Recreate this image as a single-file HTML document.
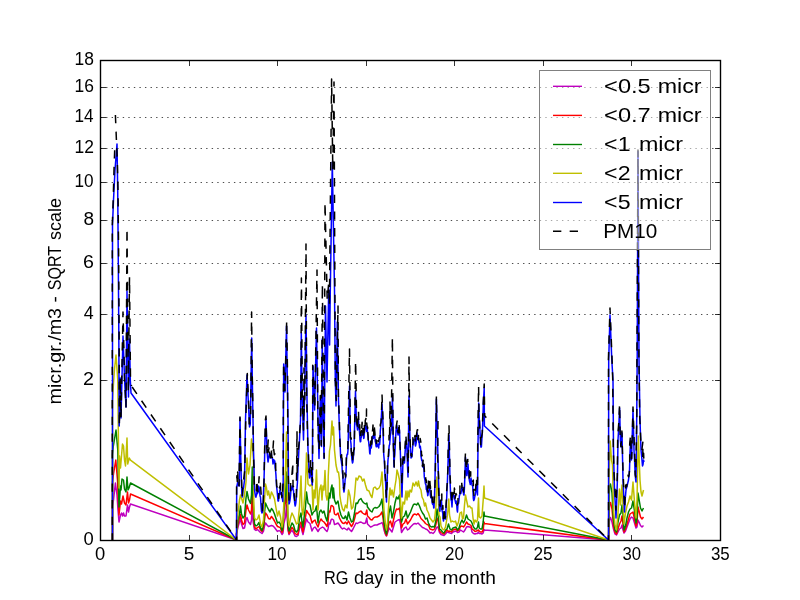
<!DOCTYPE html>
<html><head><meta charset="utf-8"><title>plot</title>
<style>html,body{margin:0;padding:0;background:#fff;}svg{display:block;will-change:transform;}text{font-family:"Liberation Sans",sans-serif;fill:#000;}</style></head><body>
<svg width="800" height="600" viewBox="0 0 800 600">
<rect width="800" height="600" fill="#fff"/>
<defs><clipPath id="c"><rect x="100" y="60" width="620" height="480"/></clipPath></defs>
<g stroke="#000" stroke-width="0.7" stroke-dasharray="1.39 4.17" fill="none">
<line x1="100.5" y1="380.5" x2="720.5" y2="380.5"/>
<line x1="100.5" y1="314.5" x2="720.5" y2="314.5"/>
<line x1="100.5" y1="263.5" x2="720.5" y2="263.5"/>
<line x1="100.5" y1="220.5" x2="720.5" y2="220.5"/>
<line x1="100.5" y1="182.5" x2="720.5" y2="182.5"/>
<line x1="100.5" y1="148.5" x2="720.5" y2="148.5"/>
<line x1="100.5" y1="117.5" x2="720.5" y2="117.5"/>
<line x1="100.5" y1="87.5" x2="720.5" y2="87.5"/>
</g>
<g clip-path="url(#c)" fill="none" stroke-linejoin="round">
<polyline stroke="#bf00bf" stroke-width="1.5" points="112.5,540.0 112.5,506.0 113.5,500.0 115.4,483.0 117.0,495.0 118.0,510.0 119.0,522.0 120.5,515.0 121.5,513.0 122.5,516.0 123.5,513.0 124.5,516.0 126.0,516.0 127.5,505.0 128.5,512.0 129.5,507.0 130.5,504.0 236.5,540.0 236.5,534.0 238.0,527.0 239.5,522.0 240.5,518.5 241.5,524.0 243.0,528.5 244.5,528.0 246.0,520.0 247.0,517.5 248.5,522.0 250.5,524.5 251.5,520.0 252.3,503.0 253.2,522.0 254.5,529.5 256.0,530.5 257.5,529.5 259.0,531.0 260.5,532.5 262.0,533.5 263.5,531.0 264.5,526.0 265.5,523.0 267.0,525.0 268.5,526.5 270.0,526.0 271.5,525.5 273.0,526.0 274.5,527.5 276.0,529.5 277.5,531.5 279.0,530.5 280.5,531.5 282.0,534.5 283.0,533.0 284.0,523.0 285.5,517.0 286.5,505.0 287.3,520.0 288.0,530.0 289.0,534.5 290.5,532.0 292.0,530.5 293.5,532.5 295.0,536.0 296.5,536.5 298.0,535.5 299.5,528.0 301.0,525.5 302.0,531.0 303.0,534.5 304.0,530.0 305.5,523.0 306.5,519.0 308.0,522.0 310.0,523.5 312.0,531.0 313.5,528.0 315.0,527.0 316.5,529.0 318.0,531.5 319.5,529.0 321.0,528.0 322.5,527.0 324.0,528.0 325.5,530.0 327.0,531.5 328.0,529.0 329.0,523.0 330.0,524.0 331.0,520.0 332.0,519.0 333.5,520.0 334.5,524.5 336.0,524.0 338.0,523.0 339.5,525.0 341.0,527.5 342.5,529.0 344.0,528.0 345.5,529.0 347.0,530.0 348.5,528.0 350.0,530.0 351.5,531.5 353.0,529.0 354.5,526.0 356.0,523.0 357.5,523.5 359.0,522.5 361.0,522.0 362.5,523.0 364.0,523.5 365.5,523.0 366.8,518.0 367.5,524.0 369.0,525.5 370.5,527.0 372.0,526.5 373.5,525.5 375.0,525.0 377.0,525.0 379.0,524.0 380.5,523.5 382.0,522.5 383.0,525.0 384.0,530.0 385.5,534.5 386.5,536.0 387.5,533.0 389.0,528.0 390.5,530.0 392.0,532.0 393.5,527.0 395.0,522.0 396.5,521.0 398.0,520.0 399.5,519.5 400.5,524.0 401.5,532.5 403.0,530.0 404.5,528.0 406.0,527.0 407.5,530.0 409.0,529.0 410.5,527.0 412.0,525.5 413.5,524.0 415.0,523.5 416.5,524.0 418.0,523.0 419.5,524.5 421.0,526.0 422.5,527.5 424.0,528.0 425.5,529.0 427.0,529.5 428.5,531.0 430.0,533.0 431.5,532.5 433.0,533.5 434.5,532.0 436.0,529.0 437.0,527.0 438.0,527.0 439.5,532.5 441.0,534.5 442.5,535.0 444.0,535.5 445.5,534.0 447.0,532.0 448.5,532.5 450.0,533.0 451.5,533.5 453.0,532.0 454.5,531.5 456.0,531.0 457.5,532.5 459.0,532.0 460.5,530.0 462.0,531.0 463.5,532.0 465.0,530.0 466.5,527.0 468.0,526.5 469.5,527.0 471.0,527.5 472.0,532.0 473.5,533.5 475.0,534.0 476.5,533.5 477.5,533.5 478.5,532.0 479.2,533.5 480.5,533.5 482.0,534.0 483.2,533.0 484.0,529.5 484.5,530.0 608.5,540.0 609.5,520.0 610.5,517.5 612.0,522.0 613.5,529.0 615.0,534.0 616.5,535.0 618.0,532.0 619.5,529.0 621.0,528.0 622.0,525.0 623.0,530.0 624.0,533.0 625.5,531.0 627.0,527.0 628.5,523.0 630.0,519.0 631.5,517.0 633.0,518.0 634.5,523.0 636.0,528.0 637.0,527.0 638.0,520.0 639.0,522.0 640.5,525.5 642.0,527.0 643.5,525.5"/>
<polyline stroke="#ff0000" stroke-width="1.5" points="112.5,540.0 112.5,482.0 113.5,474.0 115.8,460.0 117.5,480.0 118.3,500.0 119.0,515.0 120.5,501.0 121.5,504.0 123.0,496.0 124.5,503.0 126.0,505.0 127.5,492.0 128.5,503.0 129.5,500.0 130.5,494.0 236.5,540.0 236.5,534.0 238.0,524.0 239.5,518.0 240.5,514.5 241.5,520.0 243.0,524.5 244.5,523.0 246.0,510.0 247.0,505.0 248.5,510.0 250.5,514.0 251.5,510.0 252.3,487.0 253.2,510.0 254.5,527.0 256.0,529.0 257.5,527.5 259.0,526.5 260.5,530.0 262.0,531.5 263.5,528.0 264.5,520.0 265.5,513.0 267.0,515.0 268.5,518.5 270.0,519.0 271.5,516.5 273.0,518.5 274.5,521.0 276.0,524.0 277.5,526.5 279.0,527.0 280.5,528.0 282.0,532.5 283.0,530.0 284.0,510.0 285.5,502.0 286.5,490.0 287.3,510.0 288.0,528.0 289.0,533.5 290.5,530.0 292.0,527.5 293.5,529.5 295.0,533.5 296.5,534.5 298.0,534.0 299.5,525.0 301.0,522.0 302.0,528.0 303.0,532.0 304.0,525.0 305.5,517.0 306.5,510.5 308.0,513.0 310.0,515.5 312.0,523.0 313.5,521.0 315.0,520.0 316.5,524.0 318.0,527.0 319.5,522.0 321.0,519.0 322.5,521.0 324.0,522.0 325.5,524.0 327.0,526.5 328.0,522.0 329.0,511.0 330.0,512.0 331.0,506.0 332.0,505.5 333.5,507.0 334.5,514.0 336.0,515.0 338.0,513.0 339.5,518.0 341.0,521.0 342.5,523.0 344.0,523.5 345.5,522.0 347.0,524.0 348.5,521.0 350.0,524.0 351.5,526.5 353.0,524.0 354.5,519.0 356.0,513.0 357.5,513.5 359.0,512.0 361.0,511.0 362.5,513.0 364.0,514.0 365.5,514.5 366.8,510.0 367.5,516.0 369.0,517.5 370.5,519.5 372.0,520.0 373.5,518.0 375.0,517.0 377.0,517.0 379.0,516.0 380.5,514.5 382.0,512.0 383.0,518.0 384.0,526.0 385.5,533.5 386.5,535.5 387.5,531.0 389.0,523.0 390.5,521.0 392.0,527.0 393.5,520.0 395.0,513.0 396.5,509.0 398.0,509.5 399.5,508.0 400.5,517.0 401.5,528.0 403.0,524.0 404.5,523.0 406.0,519.0 407.5,524.0 409.0,522.0 410.5,520.0 412.0,517.0 413.5,514.5 415.0,514.0 416.5,515.0 418.0,513.5 419.5,515.5 421.0,518.5 422.5,520.0 424.0,521.5 425.5,523.5 427.0,524.5 428.5,525.0 430.0,529.0 431.5,529.5 433.0,530.0 434.5,529.0 436.0,524.0 437.0,518.0 438.0,520.0 439.5,531.0 441.0,532.5 442.5,533.5 444.0,534.0 445.5,532.0 447.0,530.0 448.5,531.5 450.0,531.0 451.5,532.0 453.0,530.0 454.5,529.5 456.0,529.0 457.5,531.0 459.0,530.0 460.5,526.5 462.0,526.0 463.5,527.0 465.0,525.0 466.5,522.0 468.0,524.0 469.5,524.5 471.0,525.5 472.0,529.0 473.5,530.0 475.0,531.5 476.5,531.0 477.5,530.5 478.5,530.0 479.2,531.0 480.5,532.0 482.0,532.0 483.2,530.0 484.0,522.0 484.5,523.5 608.5,540.0 609.5,505.0 610.5,502.5 612.0,509.0 613.5,526.0 615.0,532.0 616.5,534.0 618.0,529.0 619.5,524.0 621.0,521.0 622.0,516.0 623.0,524.0 624.0,532.0 625.5,529.0 627.0,524.0 628.5,519.0 630.0,514.0 631.5,513.0 633.0,512.0 634.5,519.0 636.0,526.0 637.0,523.0 638.0,507.0 639.0,511.0 640.5,517.0 642.0,519.0 643.5,517.0"/>
<polyline stroke="#008000" stroke-width="1.5" points="112.5,540.0 112.5,455.0 113.2,447.0 116.0,430.0 117.8,450.0 118.4,480.0 119.0,507.0 120.5,486.0 121.0,490.0 122.0,479.0 123.5,480.0 124.5,489.0 126.0,492.0 127.0,477.0 128.0,490.0 129.0,488.0 130.5,483.0 236.5,540.0 236.5,534.0 238.0,520.0 239.5,514.0 240.5,506.0 241.5,514.0 243.0,518.0 244.5,516.0 246.0,498.0 247.0,491.5 248.5,499.0 250.5,503.5 251.5,495.0 252.3,467.0 253.2,500.0 254.5,524.0 256.0,526.0 257.5,525.0 259.0,522.5 260.5,528.0 262.0,530.5 263.5,525.0 264.5,513.0 265.5,503.0 267.0,506.5 268.5,509.5 270.0,512.0 271.5,508.5 273.0,510.5 274.5,514.0 276.0,518.5 277.5,523.0 279.0,522.0 280.5,524.0 282.0,530.5 283.0,527.0 284.0,505.0 285.5,495.0 286.5,472.0 287.3,500.0 288.0,525.0 289.0,531.0 290.5,527.0 292.0,523.0 293.5,525.0 295.0,530.5 296.5,532.0 298.0,530.0 299.5,518.0 301.0,513.0 302.0,522.0 303.0,527.0 304.0,518.0 305.5,507.0 306.5,492.0 308.0,503.0 310.0,505.0 312.0,515.0 313.5,512.0 315.0,511.0 316.5,506.0 318.0,523.0 319.5,512.0 321.0,510.0 322.5,513.0 324.0,511.0 325.5,517.0 327.0,521.0 328.0,513.0 329.0,493.0 330.0,498.0 331.0,489.0 332.0,485.0 333.0,498.0 333.5,488.0 334.5,500.0 336.0,504.0 338.0,501.0 339.5,510.0 341.0,515.0 342.5,518.0 344.0,518.5 345.5,516.0 347.0,520.0 348.5,512.0 350.0,518.0 351.5,522.0 353.0,521.0 354.5,513.0 356.0,503.0 357.5,503.5 359.0,500.0 361.0,498.5 362.5,501.5 364.0,503.0 365.5,504.0 366.8,503.0 367.5,507.0 369.0,509.0 370.5,511.0 372.0,512.0 373.5,508.5 375.0,507.5 377.0,508.0 379.0,506.5 380.5,504.0 382.0,499.0 383.0,510.0 384.0,522.0 385.5,531.0 386.5,534.0 387.5,528.0 389.0,513.0 390.5,506.0 392.0,518.0 393.5,512.0 395.0,503.0 396.5,497.0 398.0,499.0 399.5,495.0 400.5,510.0 401.5,522.0 403.0,517.0 404.5,516.0 406.0,511.0 407.5,518.0 409.0,515.0 410.5,512.0 412.0,508.0 413.5,504.5 415.0,504.0 416.5,505.0 418.0,503.0 419.5,506.0 421.0,510.0 422.5,513.0 424.0,515.0 425.5,519.0 427.0,518.0 428.5,523.0 430.0,526.0 431.5,527.0 433.0,526.5 434.5,527.0 436.0,520.0 437.0,509.0 438.0,515.0 439.5,529.0 441.0,530.0 442.5,532.0 444.0,533.0 445.5,530.0 447.0,529.0 448.5,524.0 450.0,529.0 451.5,530.0 453.0,528.0 454.5,527.5 456.0,527.0 457.5,530.0 459.0,528.0 460.5,523.0 462.0,520.0 463.5,523.0 465.0,520.0 466.5,515.0 468.0,519.0 469.5,520.0 471.0,521.0 472.0,523.0 473.5,527.0 475.0,529.0 476.5,529.0 477.5,527.0 478.5,522.0 479.2,528.0 480.5,529.0 482.0,529.0 483.2,522.0 484.0,512.0 484.5,516.0 608.5,540.0 609.5,486.0 610.5,484.0 612.0,493.0 613.5,520.0 615.0,530.0 616.5,532.0 618.0,522.0 619.5,515.0 621.0,513.0 622.0,505.0 623.0,515.0 624.0,530.0 625.5,526.0 627.0,518.0 628.5,512.0 630.0,509.0 631.5,508.0 633.0,501.0 634.5,511.0 636.0,523.0 637.0,518.0 638.0,493.0 639.0,499.0 640.5,508.0 642.0,511.0 643.5,508.0"/>
<polyline stroke="#bfbf00" stroke-width="1.5" points="112.5,540.0 112.5,400.0 113.5,383.0 114.5,369.0 116.0,355.0 117.8,380.0 118.3,430.0 119.0,488.0 119.5,456.0 120.5,468.0 122.5,444.0 123.5,446.0 124.5,460.0 125.5,466.0 127.0,438.0 127.7,464.0 129.3,458.0 130.5,460.2 236.5,540.0 236.5,534.0 238.0,513.0 239.5,500.0 240.5,495.0 241.5,498.0 243.0,503.0 244.5,495.0 246.0,482.0 247.0,458.0 248.5,474.0 250.0,465.0 251.5,439.0 252.5,447.0 253.5,460.0 253.8,505.0 254.5,518.0 256.0,520.0 257.5,519.0 259.0,515.0 260.5,524.0 262.0,527.0 263.5,520.0 264.5,500.0 265.5,484.0 266.5,488.0 267.5,495.0 268.5,491.0 270.0,498.5 271.5,492.0 273.0,495.0 274.5,499.0 276.0,508.0 277.5,516.0 279.0,511.0 280.5,517.0 282.0,527.0 283.0,522.0 284.0,500.0 285.5,470.0 286.5,432.0 287.3,470.0 288.0,520.0 289.0,526.0 290.5,518.0 292.0,513.0 293.5,516.0 295.0,520.0 296.5,524.0 298.0,523.0 299.5,506.0 301.0,476.0 302.0,510.0 303.0,515.0 304.0,505.0 305.5,486.0 306.5,453.0 308.0,484.0 310.0,486.0 312.0,484.0 313.0,510.0 314.0,490.0 315.0,498.0 316.5,470.0 317.5,500.0 318.0,510.0 319.5,490.0 321.0,485.0 322.0,500.0 323.0,486.0 324.0,490.0 325.0,470.5 326.0,495.0 327.0,500.0 328.0,495.0 328.2,477.0 329.5,451.0 330.5,445.0 332.0,421.0 332.8,435.0 333.5,427.0 334.5,450.0 336.0,465.0 337.5,472.0 338.5,472.0 339.5,480.0 339.8,495.0 341.0,503.0 342.5,509.0 344.0,511.0 345.5,505.0 347.0,508.0 348.5,490.0 350.0,496.0 351.5,509.0 353.0,507.0 354.5,496.0 356.0,478.0 357.5,480.0 359.0,476.0 361.0,477.0 362.5,481.0 364.0,479.0 365.5,485.0 367.0,490.0 369.0,491.0 370.5,495.0 372.0,497.5 373.5,488.0 375.0,487.0 377.0,489.5 379.0,488.0 380.5,485.0 382.0,472.0 383.0,490.0 384.0,510.0 385.5,524.0 386.5,530.0 387.5,523.0 389.0,500.0 390.0,488.0 391.0,495.0 392.0,490.0 393.5,497.0 395.0,486.0 396.0,480.0 397.0,470.0 398.2,474.0 399.5,480.0 400.5,500.0 401.5,518.0 403.0,502.0 404.5,504.0 406.0,491.0 407.0,500.0 408.0,491.0 409.0,497.0 410.0,490.0 411.5,492.0 413.0,483.0 414.5,486.0 416.0,482.0 417.5,486.0 418.5,481.0 419.5,487.0 421.0,490.0 422.0,497.0 423.5,500.0 424.5,506.0 425.5,503.0 427.0,510.0 428.5,513.0 430.0,518.0 431.5,520.0 433.0,522.0 434.5,520.0 436.0,506.0 436.8,477.0 438.0,490.0 439.0,515.0 440.0,517.0 441.0,526.0 442.5,529.0 444.0,530.0 445.5,527.0 447.0,518.0 448.0,510.0 448.8,499.0 449.5,515.0 451.0,522.0 452.5,521.0 454.0,522.0 455.5,521.0 457.0,526.0 458.5,522.0 460.0,513.0 461.5,512.0 462.5,519.0 463.5,518.0 464.5,505.0 465.5,495.0 466.5,500.0 468.0,507.0 469.5,506.0 471.0,508.0 472.0,508.0 473.0,518.0 474.0,524.0 475.0,520.0 476.5,522.0 477.5,520.0 478.5,498.0 479.2,517.0 480.5,518.0 482.0,516.0 483.2,500.0 484.0,486.0 484.5,498.0 608.5,540.0 609.0,480.0 610.2,441.0 611.5,460.0 612.5,465.0 613.5,510.0 615.0,525.0 616.5,530.0 618.0,513.0 619.5,489.0 620.5,505.0 622.0,485.0 623.0,505.0 624.0,524.0 625.5,513.0 627.0,506.0 628.5,502.0 630.0,496.0 631.5,500.0 633.0,482.0 634.5,502.0 636.0,518.0 637.0,500.0 638.3,436.0 639.2,460.0 640.0,480.0 641.0,492.0 642.0,496.0 643.5,490.0"/>
<polyline stroke="#0000ff" stroke-width="1.5" points="112.5,540.0 112.5,225.0 113.5,200.0 115.0,170.0 117.0,144.0 117.7,190.0 118.2,250.0 118.8,330.0 119.2,426.0 120.2,378.0 121.0,418.0 123.0,336.0 124.6,380.0 126.0,407.0 127.0,291.0 128.5,397.0 129.5,339.0 130.3,380.0 131.0,393.0 236.5,540.0 236.5,540.0 236.7,486.0 237.0,486.4 237.3,484.1 237.7,482.5 238.0,483.0 238.6,485.0 239.2,486.0 240.0,418.0 241.0,470.0 241.5,485.1 242.0,496.0 242.4,496.9 242.8,491.7 243.1,487.3 243.5,488.0 244.0,484.1 244.5,480.0 245.5,420.0 247.0,375.0 248.5,405.0 249.0,416.4 249.5,427.0 249.9,425.8 250.3,424.0 251.7,338.0 252.3,380.0 253.0,420.0 253.5,450.0 254.0,468.4 254.5,490.0 255.1,493.6 255.7,497.0 256.0,497.2 256.4,494.6 256.7,494.7 257.0,490.0 257.5,493.5 258.0,492.0 258.5,486.1 259.0,487.0 259.5,489.8 260.0,496.0 260.5,497.1 261.0,505.0 261.5,511.6 262.0,513.0 262.5,512.1 263.0,508.0 263.5,491.7 264.0,480.0 264.5,462.4 265.0,440.0 265.5,431.8 266.0,419.0 266.5,435.3 267.0,450.0 267.5,457.0 268.0,462.0 268.3,460.8 268.7,456.8 269.0,456.2 269.3,453.3 269.7,455.9 270.0,455.0 270.3,458.1 270.7,456.2 271.0,453.9 271.3,453.3 271.7,456.8 272.0,458.0 272.5,458.4 273.0,464.0 273.5,459.8 274.0,460.0 274.4,462.9 274.8,461.1 275.1,467.8 275.5,470.0 275.9,474.4 276.2,479.8 276.6,486.7 277.0,490.0 277.5,495.0 278.0,501.0 278.5,500.9 279.0,495.0 279.5,492.7 280.0,490.0 280.4,494.0 280.8,493.7 281.1,494.8 281.5,495.0 281.8,497.4 282.1,498.2 282.5,499.2 282.8,501.5 283.2,480.0 283.4,420.0 283.7,364.0 285.0,392.0 286.5,326.0 287.3,380.0 288.0,420.0 288.5,480.0 289.0,504.0 289.4,503.2 289.8,501.4 290.1,499.3 290.5,496.0 290.9,490.8 291.2,490.6 291.6,489.2 292.0,486.0 292.4,489.0 292.8,486.1 293.1,490.3 293.5,490.0 293.8,496.0 294.2,499.2 294.5,501.0 294.8,504.2 295.2,506.0 295.5,505.0 295.9,502.7 296.2,499.4 296.6,493.3 297.0,488.0 297.4,483.0 297.8,474.0 298.1,463.5 298.5,458.0 299.0,447.4 299.5,440.0 300.0,428.6 300.5,420.0 301.3,333.0 302.2,400.0 302.9,418.9 303.2,431.0 303.5,440.0 304.0,417.9 304.5,400.0 306.0,315.0 307.0,400.0 308.0,450.0 308.4,454.8 308.8,465.3 309.1,472.3 309.5,478.0 309.9,475.5 310.2,473.2 310.6,470.0 311.0,470.0 311.3,476.4 311.6,480.4 312.0,482.7 312.3,485.0 313.0,366.0 314.6,410.0 316.5,328.0 318.0,420.0 318.5,438.7 319.0,458.5 320.3,400.0 321.5,446.5 322.2,339.0 323.2,420.0 324.0,458.5 325.5,306.0 327.0,382.0 328.7,290.0 329.6,345.0 330.3,290.0 332.3,162.0 334.5,290.0 335.3,380.0 336.0,406.0 337.3,322.0 338.5,400.0 339.0,417.3 339.5,430.0 339.9,439.1 340.2,446.7 340.6,455.9 341.0,460.0 341.3,460.6 341.7,464.2 342.0,465.1 342.3,471.9 342.7,474.7 343.0,480.0 343.5,489.4 344.0,492.0 344.4,489.4 344.8,484.7 345.1,479.6 345.5,478.0 346.0,473.0 346.5,460.0 346.9,455.1 347.2,454.1 347.6,454.5 348.0,450.0 349.5,386.0 350.5,440.0 351.0,443.9 351.5,455.0 352.0,460.1 352.5,463.0 352.9,461.9 353.2,458.8 353.6,454.1 354.0,450.0 355.5,391.0 356.5,425.0 357.0,425.6 357.5,430.0 358.0,421.5 358.5,420.0 358.9,426.9 359.2,429.2 359.6,433.5 360.0,440.0 360.3,441.8 360.7,441.6 361.0,437.7 361.3,437.5 361.7,434.8 362.0,433.0 362.3,434.1 362.7,431.5 363.0,435.3 363.3,434.2 363.7,438.4 364.0,438.0 364.3,433.6 364.7,430.6 365.0,429.0 365.3,426.3 365.7,425.1 366.0,426.0 366.3,426.6 366.7,431.5 367.0,430.4 367.3,429.3 367.7,434.2 368.0,435.0 368.3,440.5 368.7,441.8 369.0,445.8 369.3,447.2 369.7,453.3 370.0,454.0 370.3,449.4 370.7,447.4 371.0,445.7 371.3,447.9 371.7,444.7 372.0,442.0 372.3,437.9 372.7,436.6 373.0,435.8 373.3,438.5 373.7,436.3 374.0,435.0 374.3,436.0 374.7,435.4 375.0,438.5 375.3,441.7 375.7,442.7 376.0,446.0 376.3,446.8 376.7,443.6 377.0,446.7 377.3,444.1 377.7,444.7 378.0,446.0 378.3,444.4 378.7,448.0 379.0,443.4 379.3,444.5 379.7,444.5 380.0,440.0 380.3,430.8 380.7,427.0 381.0,423.7 381.3,417.9 382.0,404.0 382.5,413.1 383.0,425.0 383.5,450.0 383.8,455.2 384.2,459.5 384.5,464.5 384.8,471.8 385.2,477.6 385.5,480.0 386.0,491.7 386.5,502.0 386.9,487.6 387.2,479.0 387.6,467.3 388.0,460.0 388.3,457.6 388.7,455.8 389.0,447.7 389.3,445.2 389.7,444.6 390.0,440.0 390.4,434.9 390.8,433.0 391.1,429.3 391.5,430.0 392.4,395.0 393.2,440.0 394.0,467.0 394.4,458.2 394.8,454.9 395.1,448.2 395.5,440.0 396.0,431.1 396.5,425.0 396.9,426.3 397.2,428.3 397.6,432.4 398.0,435.0 398.4,432.9 398.8,428.9 399.1,431.3 399.5,430.0 399.9,441.7 400.2,448.0 400.6,460.1 401.0,470.0 401.5,483.9 402.0,497.0 402.5,477.2 403.0,460.0 403.4,459.4 403.8,462.4 404.1,462.5 404.5,463.0 404.9,455.0 405.2,450.9 405.6,442.5 406.0,440.0 406.5,444.6 407.0,450.0 407.5,465.8 408.0,477.0 409.0,396.0 409.5,417.9 410.0,440.0 410.5,449.6 411.0,458.0 411.4,457.4 411.8,457.1 412.1,454.8 412.5,450.0 412.9,444.2 413.2,442.3 413.6,439.8 414.0,440.0 414.4,439.1 414.8,440.1 415.1,444.2 415.5,446.0 415.9,444.6 416.2,442.9 416.6,438.7 417.0,433.0 417.4,437.6 417.8,439.2 418.1,438.9 418.5,440.0 418.9,442.7 419.2,441.9 419.6,447.4 420.0,448.0 420.3,446.2 420.7,449.4 421.0,456.3 421.3,458.0 421.7,460.3 422.0,460.0 422.3,461.3 422.7,467.0 423.0,465.3 423.3,464.1 423.7,467.8 424.0,470.0 424.3,476.9 424.7,478.8 425.0,480.3 425.3,483.2 425.7,484.5 426.0,485.0 426.3,489.4 426.7,489.2 427.0,491.9 427.3,491.0 427.7,495.7 428.0,495.0 428.3,492.3 428.7,490.0 429.0,489.8 429.3,487.8 429.7,487.1 430.0,490.0 430.3,494.9 430.7,497.2 431.0,497.8 431.3,494.5 431.7,498.1 432.0,500.0 432.3,503.5 432.7,504.4 433.0,502.1 433.3,503.3 433.7,508.0 434.0,508.0 434.5,495.6 435.0,480.0 436.4,399.0 436.9,420.0 437.5,440.0 438.0,459.0 438.5,480.0 439.0,493.4 439.5,510.0 439.9,511.3 440.2,506.9 440.6,506.3 441.0,500.0 441.5,501.4 442.0,510.0 442.4,511.8 442.8,513.2 443.1,518.9 443.5,521.0 444.0,517.0 444.5,512.0 445.0,518.5 445.5,519.0 445.9,511.0 446.2,505.1 446.6,500.0 447.0,490.0 447.4,482.1 447.8,470.0 448.4,451.4 448.7,442.3 449.0,435.0 450.0,480.0 450.5,492.1 451.0,500.0 451.5,501.0 452.0,507.0 452.4,499.5 452.8,496.9 453.1,495.6 453.5,495.0 453.9,495.6 454.2,495.6 454.6,499.4 455.0,500.0 455.4,501.7 455.8,503.5 456.2,501.1 456.7,504.3 457.1,510.0 457.5,512.0 457.9,505.0 458.2,503.3 458.6,503.4 459.0,500.0 459.4,495.5 459.8,494.9 460.1,492.5 460.5,492.0 460.9,493.5 461.2,491.6 461.6,488.6 462.0,490.0 462.3,487.2 462.7,488.6 463.0,490.5 463.3,492.2 463.7,494.9 464.0,495.0 464.4,488.5 464.8,478.0 465.1,468.6 465.5,457.0 466.0,470.0 466.5,475.0 466.9,475.6 467.2,470.8 467.6,467.4 468.0,464.0 468.5,472.6 469.0,478.0 469.5,481.2 470.0,483.0 470.3,484.5 470.7,480.6 471.0,478.1 471.3,480.4 471.7,481.0 472.0,485.0 472.3,485.6 472.7,486.0 473.0,490.9 473.3,498.4 473.7,500.6 474.0,500.0 474.3,499.3 474.7,497.0 475.0,495.9 475.3,494.6 475.7,492.3 476.0,486.0 476.4,486.6 476.8,486.5 477.1,489.6 477.5,495.0 478.0,445.0 478.7,403.0 479.1,414.7 479.6,425.0 480.1,433.3 480.5,443.0 480.9,447.1 481.4,447.0 481.9,438.4 482.5,430.0 483.3,405.0 484.2,388.0 484.4,426.0 608.5,540.0 608.7,360.0 610.0,315.0 611.8,360.0 613.0,380.0 613.5,450.0 614.0,472.0 614.5,490.0 615.2,502.5 616.0,518.0 616.7,500.8 617.4,480.0 618.0,440.0 618.8,426.3 619.6,408.0 620.4,440.0 621.0,447.0 621.5,440.2 622.0,433.0 623.0,480.0 623.8,496.4 624.5,512.0 625.2,499.5 626.0,490.0 626.8,487.0 627.7,483.4 628.5,480.0 629.0,475.9 629.5,470.0 630.0,453.1 630.5,441.0 631.0,454.4 631.5,460.0 633.0,410.0 633.5,430.1 634.0,450.0 634.5,459.5 635.0,470.0 635.5,478.5 636.0,482.0 636.7,420.0 637.2,360.0 638.0,151.5 639.0,360.0 640.0,420.0 640.5,435.3 641.0,450.0 641.8,457.9 642.5,466.0 643.0,464.6 643.5,460.0 644.0,462.0"/>
<polyline stroke="#000" stroke-width="1.5" stroke-dasharray="8.33 8.33" stroke-dashoffset="1.7" points="112.3,540.0 112.3,225.0 113.2,200.0 114.0,170.0 114.7,150.0"/>
<polyline stroke="#000" stroke-width="1.5" stroke-dasharray="8.33 8.33" stroke-dashoffset="0" points="115.4,115.0 116.5,142.0 117.3,160.0 118.0,190.0 118.6,250.0 119.1,330.0 119.4,426.0 120.2,378.0 121.0,418.0 123.0,312.0 124.6,380.0 126.0,407.0 127.0,228.0 128.3,392.0 129.5,277.0 130.5,380.0 131.5,386.0"/>
<polyline stroke="#000" stroke-width="1.5" stroke-dasharray="8.33 8.33" stroke-dashoffset="-1.2" points="131.5,386.0 236.6,540.0"/>
<polyline stroke="#000" stroke-width="1.5" stroke-dasharray="8.33 8.33" stroke-dashoffset="4.83" points="236.6,540.0 236.6,485.2 236.9,475.8 237.3,481.6 237.7,472.0 238.1,480.2 238.8,478.4 239.0,485.7 240.0,417.0 240.9,466.7 241.7,482.7 241.8,495.2 242.3,496.1 242.8,488.1 243.2,487.0 243.7,483.9 243.8,478.6 244.8,469.9 245.8,418.0 247.3,373.5 248.7,404.8 249.2,415.0 249.2,423.9 249.6,422.9 250.6,421.2 251.6,312.0 252.3,378.4 253.1,414.9 253.2,449.9 254.0,467.6 254.3,487.4 255.4,488.2 255.4,490.5 256.2,488.9 256.4,490.7 256.3,490.3 256.8,479.8 257.4,488.5 258.0,491.8 258.7,484.8 259.1,476.7 259.5,485.5 259.8,486.0 260.7,487.3 261.3,497.0 261.7,502.1 262.2,505.0 262.5,511.6 263.1,507.5 263.8,488.8 264.1,476.6 264.4,458.3 265.1,430.8 265.2,420.9 266.0,416.0 266.3,430.3 266.8,447.8 267.3,454.6 268.2,440.0 268.3,452.1 269.0,447.9 268.7,451.0 269.0,448.2 269.6,449.1 269.5,452.0 270.4,457.4 270.6,454.8 270.9,449.5 271.4,448.7 271.5,451.9 271.7,457.6 272.4,457.3 273.5,441.0 273.2,450.1 273.7,449.3 274.4,454.8 274.8,453.8 275.1,458.1 275.6,459.9 275.8,473.5 276.3,477.6 276.7,486.0 277.1,487.0 277.5,489.9 278.2,490.2 278.8,498.4 278.9,485.9 279.5,487.9 280.2,485.5 280.7,493.6 280.4,483.3 281.1,494.4 281.5,492.6 281.9,497.2 282.1,493.7 282.4,496.3 282.5,491.3 283.3,478.8 283.3,415.8 283.6,362.7 284.9,390.5 286.7,320.0 287.6,378.8 287.7,417.9 288.2,473.6 289.1,500.1 289.1,498.1 289.5,496.7 290.3,494.4 290.4,493.4 290.6,483.0 291.5,481.8 291.6,478.6 293.0,462.0 292.2,481.5 293.0,480.4 293.0,486.9 293.4,486.4 294.0,495.1 294.2,493.8 294.8,499.9 294.8,502.1 295.5,501.7 295.2,499.8 295.6,497.5 296.5,498.3 296.4,492.4 297.0,431.0 297.2,473.8 297.8,469.0 298.0,455.6 298.5,448.6 299.1,442.6 299.7,431.9 300.2,425.4 300.8,413.7 301.4,278.0 302.3,397.5 302.8,414.1 303.5,429.9 304.0,368.0 303.8,416.2 304.8,398.1 306.0,244.0 306.7,399.7 307.8,444.9 308.4,454.2 308.5,459.1 308.9,471.9 309.3,469.0 309.6,475.0 310.3,465.6 310.5,461.6 310.9,459.4 311.3,470.6 312.0,478.2 312.0,474.8 312.6,481.9 312.7,365.3 314.8,407.9 317.0,270.0 317.8,414.6 318.3,438.2 319.1,449.9 320.3,395.6 321.2,445.3 322.4,284.0 323.4,413.9 324.2,458.1 325.0,202.0 327.2,300.0 328.7,283.0 329.4,305.0 330.4,200.0 331.6,79.0 332.8,170.0 334.0,82.0 334.9,290.0 335.3,379.8 336.3,400.6 338.0,306.0 338.4,396.9 339.2,413.4 339.5,425.8 339.7,437.8 340.1,444.4 340.5,451.0 340.9,457.6 341.6,454.8 341.6,462.1 342.0,457.9 342.7,469.8 342.7,467.7 343.0,476.5 343.4,486.1 343.8,489.0 344.7,481.8 344.6,479.9 344.9,473.1 345.6,477.0 346.2,472.4 346.3,457.6 346.8,454.9 347.2,452.8 347.8,449.9 347.9,442.1 349.5,349.0 350.4,437.9 351.2,438.0 351.2,450.6 352.1,456.7 352.5,462.4 353.0,451.8 353.5,457.7 353.6,450.7 354.3,448.9 355.6,361.0 356.7,422.1 357.1,424.7 357.3,429.9 357.9,418.7 358.5,411.0 358.8,422.2 359.0,428.3 359.7,424.8 360.3,436.9 360.4,431.7 360.5,440.3 361.1,430.5 361.4,430.6 361.4,434.8 362.1,422.3 362.5,429.4 362.9,427.1 363.0,435.0 363.4,433.6 363.5,437.6 364.1,434.7 364.1,432.6 364.6,421.6 365.1,426.3 365.3,420.4 365.9,418.9 366.5,409.0 366.4,424.3 366.7,422.9 366.9,424.8 367.6,428.6 367.8,425.2 367.7,430.6 368.3,439.8 368.8,439.6 368.9,442.8 369.0,444.3 369.8,442.5 370.2,445.9 370.4,444.4 370.9,440.9 371.3,444.9 371.2,447.6 371.9,442.4 371.9,434.0 372.0,435.8 372.7,429.0 373.0,425.0 373.6,435.4 373.9,429.3 373.8,431.1 374.1,425.0 374.9,432.7 375.2,438.4 375.6,436.1 375.8,436.1 375.7,437.8 376.5,443.6 376.5,443.3 376.9,441.6 377.4,438.5 378.0,441.5 378.1,442.9 378.3,443.0 378.3,443.8 378.8,440.3 379.2,438.1 379.5,437.3 380.3,437.3 380.3,424.6 381.0,422.3 381.0,422.1 381.4,415.9 382.0,394.0 382.5,407.9 383.0,419.3 383.7,443.1 383.6,454.2 384.4,454.4 384.5,457.3 384.8,467.5 385.3,476.7 385.3,474.5 386.0,491.7 386.3,498.2 387.2,481.3 387.5,474.8 387.5,464.7 388.1,459.5 388.4,454.6 388.4,454.5 389.1,445.0 389.0,435.3 389.5,441.1 390.0,402.0 390.4,428.7 390.5,422.0 390.8,426.3 391.2,424.4 392.4,337.0 393.1,436.8 394.3,466.9 394.2,448.5 394.6,450.7 395.0,442.5 395.6,434.1 396.1,430.5 396.6,424.7 397.1,421.0 397.5,426.1 397.4,427.3 398.0,432.3 398.2,432.6 398.7,427.0 399.4,421.9 399.2,426.5 399.7,438.3 400.1,447.7 400.8,454.4 400.8,466.6 401.7,476.1 401.7,486.5 402.2,473.7 403.2,452.4 403.3,457.2 403.5,460.2 404.0,460.4 404.2,458.8 405.0,447.7 405.0,448.3 405.6,437.6 405.8,434.5 406.3,441.2 407.1,450.0 407.8,460.6 408.3,472.3 409.0,357.0 409.6,415.1 409.8,429.7 410.4,447.3 410.9,455.8 411.2,453.4 411.7,456.5 411.9,453.8 412.4,449.5 413.0,443.4 412.9,437.5 413.3,436.3 414.0,437.8 414.3,435.2 414.6,438.0 415.0,435.4 415.5,443.3 415.8,438.8 416.4,437.2 416.6,434.2 417.2,429.9 417.7,429.7 417.8,439.0 418.5,435.5 418.3,439.7 418.5,439.8 419.1,438.3 419.7,442.8 420.2,443.8 420.2,438.6 420.8,441.8 421.3,451.6 421.4,451.2 421.6,456.1 422.0,455.0 422.2,458.3 422.4,466.3 422.7,465.2 423.3,457.6 423.4,459.4 423.7,459.7 424.5,472.8 424.5,473.9 424.9,472.6 425.6,473.0 425.8,480.8 426.2,479.7 426.5,488.8 426.3,486.5 427.3,486.1 427.3,490.0 428.0,492.1 428.1,488.8 428.2,492.2 428.4,479.0 429.0,487.7 429.2,484.3 429.5,476.9 430.2,485.5 430.5,487.0 430.4,492.0 431.3,497.6 431.1,490.5 431.7,496.0 431.8,499.1 432.2,499.6 432.4,502.2 432.7,494.6 433.7,502.6 433.7,502.6 433.9,502.8 434.6,494.8 435.3,476.9 436.4,396.3 436.7,414.2 438.0,421.0 437.7,458.7 438.7,479.5 438.7,489.3 439.2,504.2 440.1,506.1 440.5,498.9 441.0,496.5 440.9,498.6 441.8,494.1 441.8,509.1 442.5,508.4 442.8,505.4 443.4,515.7 443.4,518.6 444.2,509.9 444.3,507.3 444.9,518.2 445.5,517.0 445.9,507.7 446.5,498.0 446.4,495.0 447.3,481.8 447.5,478.5 447.9,469.6 448.2,443.8 448.5,436.3 449.0,425.0 450.1,476.5 450.8,487.6 451.0,490.9 451.7,498.6 452.1,503.2 452.2,495.9 452.8,492.6 453.1,494.7 453.8,490.6 454.2,494.9 454.4,488.0 454.9,491.4 455.0,498.5 455.5,496.3 456.0,493.4 455.9,495.1 456.5,494.7 457.1,501.7 457.3,505.0 457.9,502.7 458.1,494.8 458.8,493.2 459.2,494.4 459.1,494.9 460.0,494.4 459.9,485.9 460.6,486.6 461.2,487.2 461.5,487.1 461.7,481.7 461.9,487.9 462.2,482.7 462.4,483.8 463.0,489.4 463.6,492.0 463.5,491.5 464.2,485.5 464.3,485.3 464.7,477.0 465.1,460.6 465.5,452.0 465.9,464.3 466.6,467.8 466.7,470.1 467.2,461.4 467.8,459.4 467.7,460.2 468.5,469.5 469.1,470.5 469.4,478.2 469.8,481.7 470.6,481.2 470.7,471.7 470.7,476.7 471.5,476.9 471.9,477.7 472.1,478.9 472.3,482.2 472.7,481.3 473.3,480.1 473.4,493.1 473.4,489.6 474.1,496.4 474.1,493.4 474.6,494.4 474.8,489.5 475.5,490.1 475.8,487.1 476.0,479.4 476.7,485.3 476.6,480.4 476.9,485.5 477.5,487.5 477.7,444.1 478.6,386.0 479.0,414.2 479.5,420.7 480.0,433.0 480.7,439.2 480.7,445.8 481.3,438.4 482.3,432.9 482.3,428.0 483.4,399.2 484.2,384.0 484.7,416.0"/>
<polyline stroke="#000" stroke-width="1.5" stroke-dasharray="8.33 8.33" stroke-dashoffset="6" points="484.7,416.0 608.5,540.0"/>
<polyline stroke="#000" stroke-width="1.5" stroke-dasharray="8.33 8.33" stroke-dashoffset="3.58" points="608.5,540.0 608.5,360.0 608.4,359.8 610.0,308.0 612.1,359.9 612.7,378.7 613.3,447.7 613.9,470.6 614.8,485.4 615.3,493.7 615.9,510.0 616.6,493.5 617.3,476.1 617.7,436.2 618.8,422.6 619.6,404.0 620.2,436.4 620.9,446.4 621.7,437.3 621.9,431.0 623.1,474.0 623.8,488.5 624.6,508.8 625.2,496.2 625.7,485.0 626.7,486.6 627.9,475.2 628.6,476.9 629.2,474.4 629.7,466.7 629.7,443.9 630.6,434.8 631.1,448.7 631.7,458.6 633.0,407.0 633.7,428.1 634.3,445.3 634.7,453.1 634.9,465.0 635.2,474.8 635.7,477.1 636.8,419.2 636.9,359.4 638.0,150.0 638.9,358.2 639.7,416.8 640.2,427.0 641.1,446.5 641.9,449.5 643.0,441.0 642.7,459.5 643.6,453.2 643.8,458.6"/>
</g>
<g stroke="#000" stroke-width="0.8" fill="none">
<line x1="100.5" y1="540.5" x2="100.5" y2="535"/><line x1="100.5" y1="60.5" x2="100.5" y2="66"/>
<line x1="189.5" y1="540.5" x2="189.5" y2="535"/><line x1="189.5" y1="60.5" x2="189.5" y2="66"/>
<line x1="277.5" y1="540.5" x2="277.5" y2="535"/><line x1="277.5" y1="60.5" x2="277.5" y2="66"/>
<line x1="366.5" y1="540.5" x2="366.5" y2="535"/><line x1="366.5" y1="60.5" x2="366.5" y2="66"/>
<line x1="454.5" y1="540.5" x2="454.5" y2="535"/><line x1="454.5" y1="60.5" x2="454.5" y2="66"/>
<line x1="543.5" y1="540.5" x2="543.5" y2="535"/><line x1="543.5" y1="60.5" x2="543.5" y2="66"/>
<line x1="631.5" y1="540.5" x2="631.5" y2="535"/><line x1="631.5" y1="60.5" x2="631.5" y2="66"/>
<line x1="720.5" y1="540.5" x2="720.5" y2="535"/><line x1="720.5" y1="60.5" x2="720.5" y2="66"/>
<line x1="100.5" y1="540.5" x2="106" y2="540.5"/><line x1="720.5" y1="540.5" x2="715" y2="540.5"/>
<line x1="100.5" y1="380.5" x2="106" y2="380.5"/><line x1="720.5" y1="380.5" x2="715" y2="380.5"/>
<line x1="100.5" y1="314.5" x2="106" y2="314.5"/><line x1="720.5" y1="314.5" x2="715" y2="314.5"/>
<line x1="100.5" y1="263.5" x2="106" y2="263.5"/><line x1="720.5" y1="263.5" x2="715" y2="263.5"/>
<line x1="100.5" y1="220.5" x2="106" y2="220.5"/><line x1="720.5" y1="220.5" x2="715" y2="220.5"/>
<line x1="100.5" y1="182.5" x2="106" y2="182.5"/><line x1="720.5" y1="182.5" x2="715" y2="182.5"/>
<line x1="100.5" y1="148.5" x2="106" y2="148.5"/><line x1="720.5" y1="148.5" x2="715" y2="148.5"/>
<line x1="100.5" y1="117.5" x2="106" y2="117.5"/><line x1="720.5" y1="117.5" x2="715" y2="117.5"/>
<line x1="100.5" y1="87.5" x2="106" y2="87.5"/><line x1="720.5" y1="87.5" x2="715" y2="87.5"/>
<line x1="100.5" y1="60.5" x2="106" y2="60.5"/><line x1="720.5" y1="60.5" x2="715" y2="60.5"/>
</g>
<rect x="100.5" y="60.5" width="620" height="480" fill="none" stroke="#000" stroke-width="1.39"/>
<text x="95.12" y="559.80" font-size="17.5" textLength="10.23" lengthAdjust="spacingAndGlyphs">0</text>
<text x="183.68" y="559.80" font-size="17.5" textLength="10.56" lengthAdjust="spacingAndGlyphs">5</text>
<text x="267.57" y="559.80" font-size="17.5" textLength="19.10" lengthAdjust="spacingAndGlyphs">10</text>
<text x="356.12" y="559.80" font-size="17.5" textLength="19.40" lengthAdjust="spacingAndGlyphs">15</text>
<text x="444.99" y="559.80" font-size="17.5" textLength="18.81" lengthAdjust="spacingAndGlyphs">20</text>
<text x="533.55" y="559.80" font-size="17.5" textLength="19.10" lengthAdjust="spacingAndGlyphs">25</text>
<text x="622.41" y="559.80" font-size="17.5" textLength="18.54" lengthAdjust="spacingAndGlyphs">30</text>
<text x="710.97" y="559.80" font-size="17.5" textLength="18.81" lengthAdjust="spacingAndGlyphs">35</text>
<text x="83.42" y="544.90" font-size="17.5" textLength="10.23" lengthAdjust="spacingAndGlyphs">0</text>
<text x="83.08" y="384.90" font-size="17.5" textLength="10.92" lengthAdjust="spacingAndGlyphs">2</text>
<text x="83.72" y="318.63" font-size="17.5" textLength="9.92" lengthAdjust="spacingAndGlyphs">4</text>
<text x="83.08" y="267.77" font-size="17.5" textLength="10.92" lengthAdjust="spacingAndGlyphs">6</text>
<text x="83.41" y="224.90" font-size="17.5" textLength="10.56" lengthAdjust="spacingAndGlyphs">8</text>
<text x="74.53" y="187.13" font-size="17.5" textLength="19.10" lengthAdjust="spacingAndGlyphs">10</text>
<text x="74.51" y="152.98" font-size="17.5" textLength="19.40" lengthAdjust="spacingAndGlyphs">12</text>
<text x="74.53" y="121.58" font-size="17.5" textLength="19.10" lengthAdjust="spacingAndGlyphs">14</text>
<text x="74.51" y="92.35" font-size="17.5" textLength="19.40" lengthAdjust="spacingAndGlyphs">16</text>
<text x="74.51" y="64.90" font-size="17.5" textLength="19.40" lengthAdjust="spacingAndGlyphs">18</text>
<text x="324.02" y="584.40" font-size="17.5" textLength="24.50" lengthAdjust="spacingAndGlyphs">RG</text>
<text x="354.13" y="584.40" font-size="17.5" textLength="29.17" lengthAdjust="spacingAndGlyphs">day</text>
<text x="390.16" y="584.40" font-size="17.5" textLength="14.16" lengthAdjust="spacingAndGlyphs">in</text>
<text x="410.70" y="584.40" font-size="17.5" textLength="25.85" lengthAdjust="spacingAndGlyphs">the</text>
<text x="442.60" y="584.40" font-size="17.5" textLength="53.27" lengthAdjust="spacingAndGlyphs">month</text>
<text transform="translate(60.80,403.30) rotate(-90)" x="-1.24" y="0" font-size="17.5" textLength="96.64" lengthAdjust="spacingAndGlyphs">micr.gr./m3</text>
<text transform="translate(60.80,302.00) rotate(-90)" x="-0.59" y="0" font-size="17.5" textLength="6.27" lengthAdjust="spacingAndGlyphs">-</text>
<text transform="translate(60.80,289.80) rotate(-90)" x="-0.50" y="0" font-size="17.5" textLength="44.38" lengthAdjust="spacingAndGlyphs">SQRT</text>
<text transform="translate(60.80,239.80) rotate(-90)" x="-0.28" y="0" font-size="17.5" textLength="42.11" lengthAdjust="spacingAndGlyphs">scale</text>
<rect x="539.5" y="70.5" width="171" height="179" fill="#fff" fill-opacity="0.5" stroke="#808080" stroke-width="1"/>
<line x1="553" y1="86.3" x2="582" y2="86.3" stroke="#bf00bf" stroke-width="1.39"/>
<text x="604.09" y="92.70" font-size="20.8" textLength="46.67" lengthAdjust="spacingAndGlyphs">&lt;0.5</text>
<text x="657.75" y="92.70" font-size="20.8" textLength="43.87" lengthAdjust="spacingAndGlyphs">micr</text>
<line x1="553" y1="115.4" x2="582" y2="115.4" stroke="#ff0000" stroke-width="1.39"/>
<text x="604.09" y="121.80" font-size="20.8" textLength="46.67" lengthAdjust="spacingAndGlyphs">&lt;0.7</text>
<text x="657.75" y="121.80" font-size="20.8" textLength="43.87" lengthAdjust="spacingAndGlyphs">micr</text>
<line x1="553" y1="144.5" x2="582" y2="144.5" stroke="#008000" stroke-width="1.39"/>
<text x="604.11" y="150.90" font-size="20.8" textLength="26.43" lengthAdjust="spacingAndGlyphs">&lt;1</text>
<text x="638.94" y="150.90" font-size="20.8" textLength="43.97" lengthAdjust="spacingAndGlyphs">micr</text>
<line x1="553" y1="173.3" x2="582" y2="173.3" stroke="#bfbf00" stroke-width="1.39"/>
<text x="604.11" y="179.70" font-size="20.8" textLength="26.43" lengthAdjust="spacingAndGlyphs">&lt;2</text>
<text x="638.94" y="179.70" font-size="20.8" textLength="43.97" lengthAdjust="spacingAndGlyphs">micr</text>
<line x1="553" y1="202.5" x2="582" y2="202.5" stroke="#0000ff" stroke-width="1.39"/>
<text x="604.11" y="208.90" font-size="20.8" textLength="26.43" lengthAdjust="spacingAndGlyphs">&lt;5</text>
<text x="638.94" y="208.90" font-size="20.8" textLength="43.97" lengthAdjust="spacingAndGlyphs">micr</text>
<line x1="553" y1="231.3" x2="582" y2="231.3" stroke="#000" stroke-width="1.39" stroke-dasharray="8.33 8.33"/>
<text x="603.18" y="237.70" font-size="20.8" textLength="54.14" lengthAdjust="spacingAndGlyphs">PM10</text>
</svg>
</body></html>
